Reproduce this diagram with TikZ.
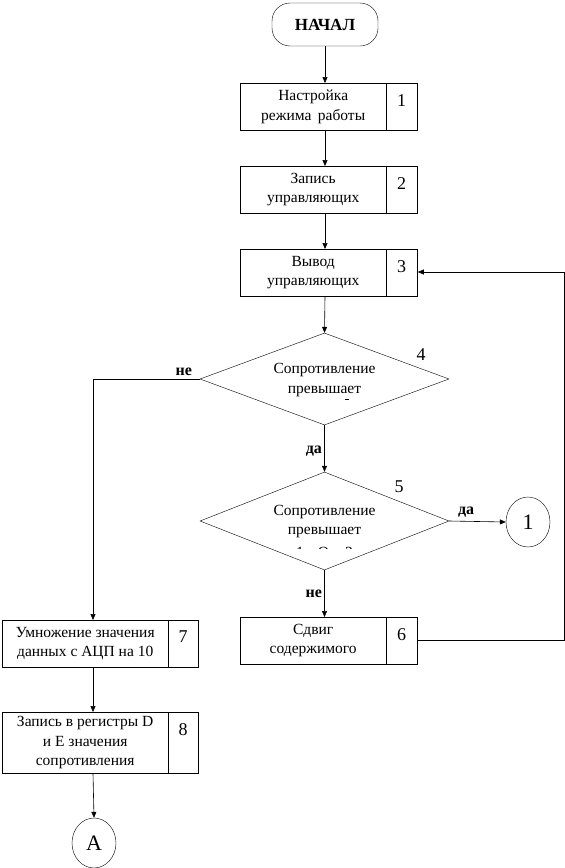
\documentclass[tikz,border=0pt]{standalone}
\usepackage{fontspec}
\setmainfont{Liberation Serif}
\usetikzlibrary{shapes.geometric,arrows.meta}
\begin{document}
\begin{tikzpicture}[x=1pt,y=-1pt,
  every node/.style={font=\fontsize{15.5}{19.5}\selectfont},
  mainbox/.style={draw,rectangle,inner sep=0pt,minimum height=47pt,align=center},
  numcell/.style={draw,rectangle,inner sep=0pt,minimum height=47pt,anchor=north west},
  numlabel/.style={font=\fontsize{18}{20}\selectfont},
  decision/.style={draw,diamond,inner sep=0pt,aspect=1},
  conn/.style={draw,ellipse,inner sep=0pt,minimum width=44pt,minimum height=50pt,font=\fontsize{22}{24}\selectfont},
  lbl/.style={font=\bfseries\fontsize{16}{18}\selectfont},
  arr/.style={-{Triangle[length=6pt,width=5pt]},line width=0.6pt},
  ln/.style={line width=0.6pt}]
\useasboundingbox (0,0) rectangle (565,868);
% start
\node[draw,rounded corners=18pt,minimum width=106pt,minimum height=43pt,inner sep=0pt,font=\bfseries\fontsize{17}{19}\selectfont] (start) at (325,24.5) {НАЧАЛ};
% boxes 1-3
\node[mainbox,minimum width=146pt,anchor=north west] (b1) at (240,83) {Настройка\\режима\, работы};
\node[numcell,minimum width=31pt] (n1) at (b1.north east) {};
\node[numlabel] at (401.5,101) {1};
\node[mainbox,minimum width=146pt,anchor=north west] (b2) at (240,166) {Запись\\управляющих};
\node[numcell,minimum width=31pt] (n2) at (b2.north east) {};
\node[numlabel] at (401.5,184) {2};
\node[mainbox,minimum width=146pt,anchor=north west] (b3) at (240,249) {Вывод\\управляющих};
\node[numcell,minimum width=31pt] (n3) at (b3.north east) {};
\node[numlabel] at (401.5,267) {3};
% diamond 4
\node[decision,minimum width=249pt,minimum height=92pt] (d4) at (324.5,379) {};
\node[align=center] (t4) at (324.5,380) {Сопротивление\\превышает};
\draw[ln] (345,399.5) -- (349,399.5);
\node[numlabel] at (421,355) {4};
% diamond 5
\node[decision,minimum width=249pt,minimum height=98pt] (d5) at (324.5,521) {};
\node[align=center] (t5) at (324.5,521.5) {Сопротивление\\превышает};
\begin{scope}
\clip (260,544) rectangle (390,548.5);
\node (t5c) at (324.5,552) {1\, кОм\,  3};
\end{scope}
\node[numlabel] at (399,487) {5};
% connector 1
\node[conn] (c1) at (528,522) {1};
% box 6
\node[mainbox,minimum width=146pt,anchor=north west] (b6) at (240,617) {Сдвиг\\содержимого};
\node[numcell,minimum width=31pt] (n6) at (b6.north east) {};
\node[numlabel] at (401.5,635) {6};
% box 7
\node[mainbox,minimum width=166pt,anchor=north west] (b7) at (2,620) {Умножение значения\\данных с АЦП на 10};
\node[numcell,minimum width=30pt] (n7) at (b7.north east) {};
\node[numlabel] at (183,637) {7};
% box 8
\node[mainbox,minimum width=166pt,minimum height=61pt,anchor=north west] (b8) at (2,712) {Запись в регистры D\\и E значения\\сопротивления};
\node[numcell,minimum width=30pt,minimum height=61pt] (n8) at (b8.north east) {};
\node[numlabel] at (183,730) {8};
% connector A
\node[conn] (cA) at (94,843) {A};
% arrows
\draw[arr] (start.south) -- (start.south |- b1.north);
\draw[arr] (start.south |- b1.south) -- (start.south |- b2.north);
\draw[arr] (start.south |- b2.south) -- (start.south |- b3.north);
\draw[arr] (start.south |- b3.south) -- (d4.north);
\draw[arr] (d4.south) -- node[lbl,left,pos=0.55,xshift=1pt] {да} (d5.north);
\draw[arr] (d5.east) -- node[lbl,above,pos=0.3] {да} (c1.west);
\draw[arr] (d5.south) -- node[lbl,left,pos=0.5,xshift=1pt] {не} (d5.south |- b6.north);
\coordinate (kn) at (93,379);
\draw[arr] (d4.west) -- node[lbl,above,pos=0.15] {не} (kn) -- (kn |- b7.north);
\draw[arr] (kn |- b7.south) -- (kn |- b8.north);
\draw[arr] (kn |- b8.south) -- (cA.north);
\coordinate (rr) at (564,640);
\draw[arr] (n6.east |- rr) -- (rr) -- (564,272) -- (n3.east |- 0,272);
\end{tikzpicture}
\end{document}
